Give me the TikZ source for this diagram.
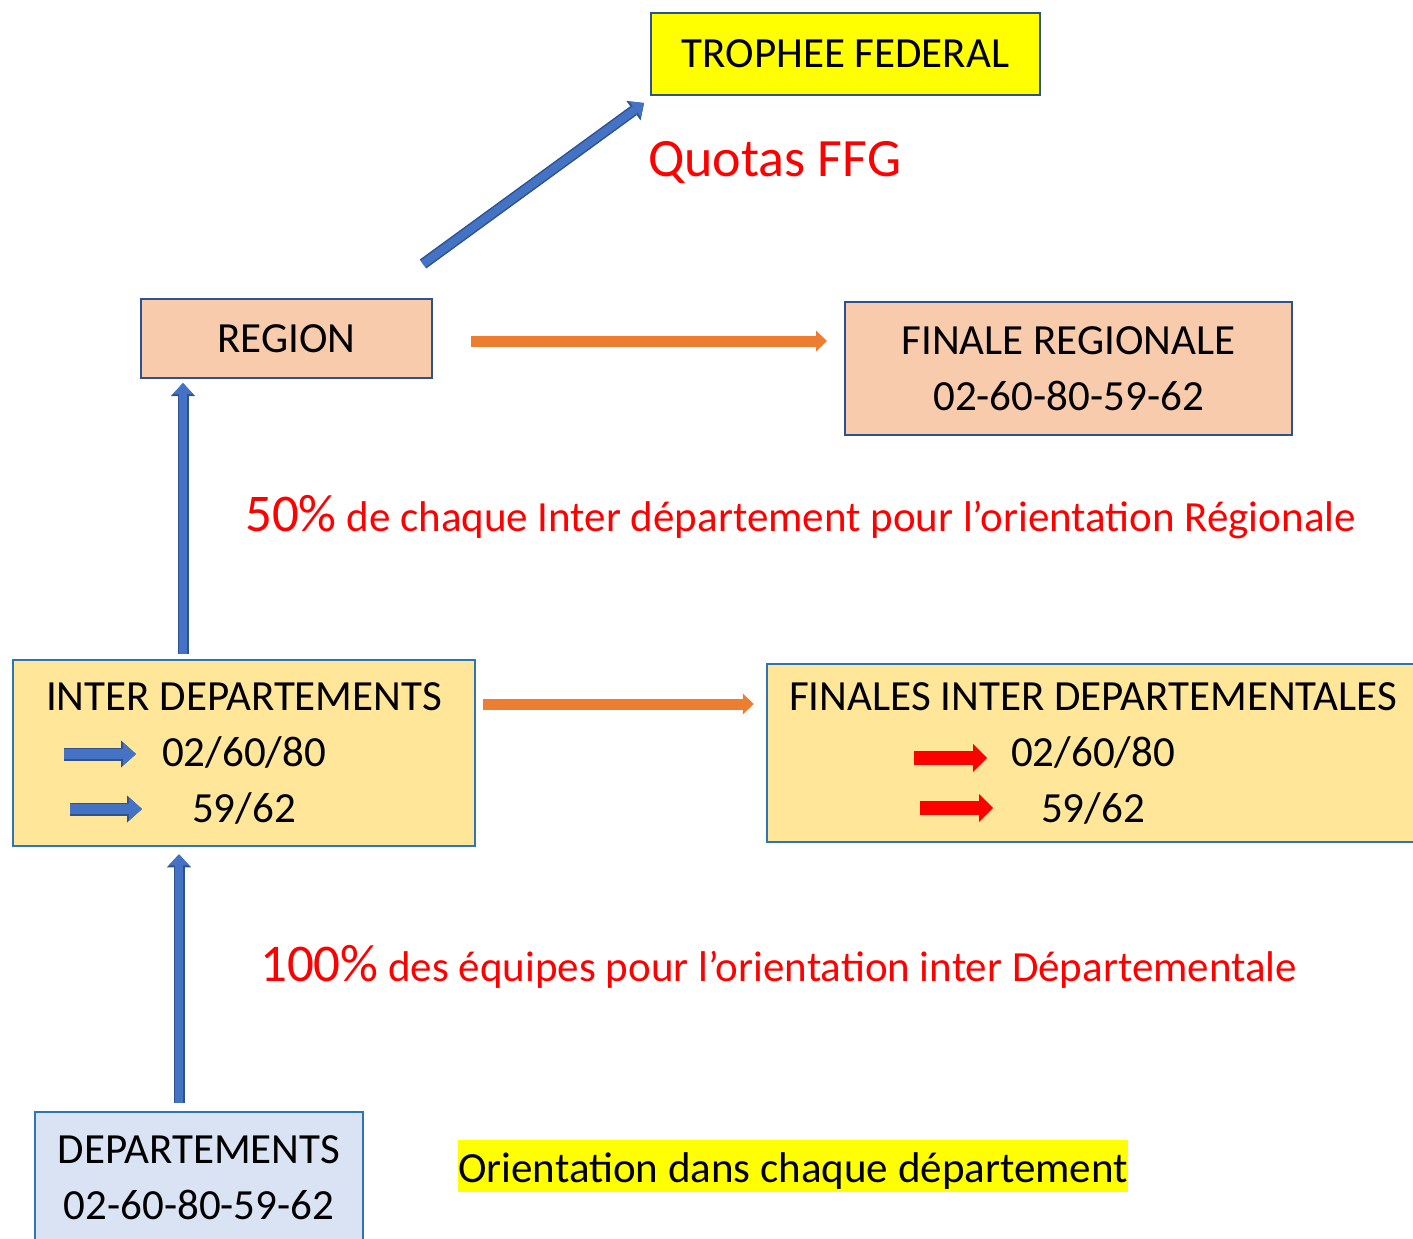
\documentclass[tikz,border=0pt]{standalone}
\usepackage{fontspec}
\setmainfont{Carlito}
\usetikzlibrary{arrows.meta,calc}
\definecolor{trophy}{HTML}{FFFF00}
\definecolor{peach}{HTML}{F8CBAD}
\definecolor{gold}{HTML}{FFE699}
\definecolor{paleblue}{HTML}{DAE3F3}
\definecolor{edgedark}{HTML}{2F528F}
\definecolor{edgelight}{HTML}{2E75B6}
\definecolor{arrowblue}{HTML}{4472C4}
\definecolor{arroworange}{HTML}{ED7D31}
\definecolor{quotared}{HTML}{FF0000}
\begin{document}
\begin{tikzpicture}[x=1pt, y=-1pt, line join=miter, font=\fontsize{43}{56}\selectfont,
	box/.style={draw=edgedark, line width=2pt, inner sep=0pt, align=center},
	lightbox/.style={box, draw=edgelight, line width=2.5pt},
	bluearr/.style={draw=edgedark, line width=11pt, -{Triangle[length=13pt,width=24pt,line width=0pt]},
		postaction={draw=arrowblue, line width=8pt, -{Triangle[length=11pt,width=20pt,line width=0pt]}}},
	smallblue/.style={draw=edgedark, line width=13pt, -{Triangle[length=15pt,width=27pt,line width=0pt]},
		postaction={draw=arrowblue, line width=10pt, -{Triangle[length=13pt,width=23pt,line width=0pt]}}},
	orangearr/.style={draw=arroworange, line width=11pt, -{Triangle[length=11pt,width=21pt,line width=0pt]}},
	redarr/.style={draw=quotared, line width=14pt, -{Triangle[length=14pt,width=28pt,line width=0pt]}},
	note/.style={text=quotared, anchor=base west, inner sep=0pt},
	bignum/.style={font=\fontsize{53}{60}\selectfont}]
	\useasboundingbox (0,0) rectangle (1413,1239);
	\node[box, fill=trophy, minimum width=389pt, minimum height=82pt] (trophee) at (845.5,54) {TROPHEE FEDERAL};
	\node[box, fill=peach, minimum width=291pt, minimum height=79pt] (region) at (286.5,338.5) {REGION};
	\node[box, fill=peach, minimum width=447pt, minimum height=133pt] (finreg) at (1068.5,368.5) {FINALE REGIONALE\\02-60-80-59-62};
	\node[lightbox, fill=gold, minimum width=462pt, minimum height=186pt] (inter) at (244,753) {INTER DEPARTEMENTS\\02/60/80\\59/62};
	\node[lightbox, fill=gold, minimum width=652pt, minimum height=178pt] (finales) at (1093,753) {FINALES INTER DEPARTEMENTALES\\02/60/80\\59/62};
	\node[lightbox, fill=paleblue, minimum width=328pt, minimum height=132pt] (dep) at (199,1178) {DEPARTEMENTS\\02-60-80-59-62};
	\node[note, font=\fontsize{54}{60}\selectfont] (quotas) at (648,176) {Quotas FFG};
	\node[note] (regnote) at (245,531) {{\fontsize{53}{60}\selectfont 50\%} de chaque Inter département pour l’orientation Régionale};
	\node[note] (internote) at (260,981) {{\fontsize{53}{60}\selectfont 100\%} des équipes pour l’orientation inter Départementale};
	\node[fill=trophy, inner sep=0pt, text height=42pt, text depth=10pt, anchor=base west] (orient) at (458,1182) {Orientation dans chaque département};
	\draw[bluearr] ($(region.north east)+(-10,-34)$) -- ($(trophee.south west)+(-6,7)$);
	\draw[orangearr, shorten <=38pt, shorten >=17pt] ([yshift=-2.5pt]region.east) -- ([yshift=-2.5pt]region.east -| finreg.west);
	\draw[orangearr, shorten <=7pt, shorten >=12pt] ([yshift=49pt]inter.east) -- ([yshift=49pt]inter.east -| finales.west);
	\draw[bluearr, shorten <=5pt, shorten >=4pt] ([xshift=-61pt]inter.north) -- ([xshift=-61pt]inter.north |- region.south);
	\draw[bluearr, shorten <=8pt, shorten >=7pt] ([xshift=-20pt]dep.north) -- ([xshift=-20pt]dep.north |- inter.south);
	\draw[smallblue] (64,754) -- (136,754);
	\draw[smallblue] (70,809) -- (142,809);
	\draw[redarr] (914,758) -- (987,758);
	\draw[redarr] (920,808) -- (993,808);
\end{tikzpicture}
\end{document}
